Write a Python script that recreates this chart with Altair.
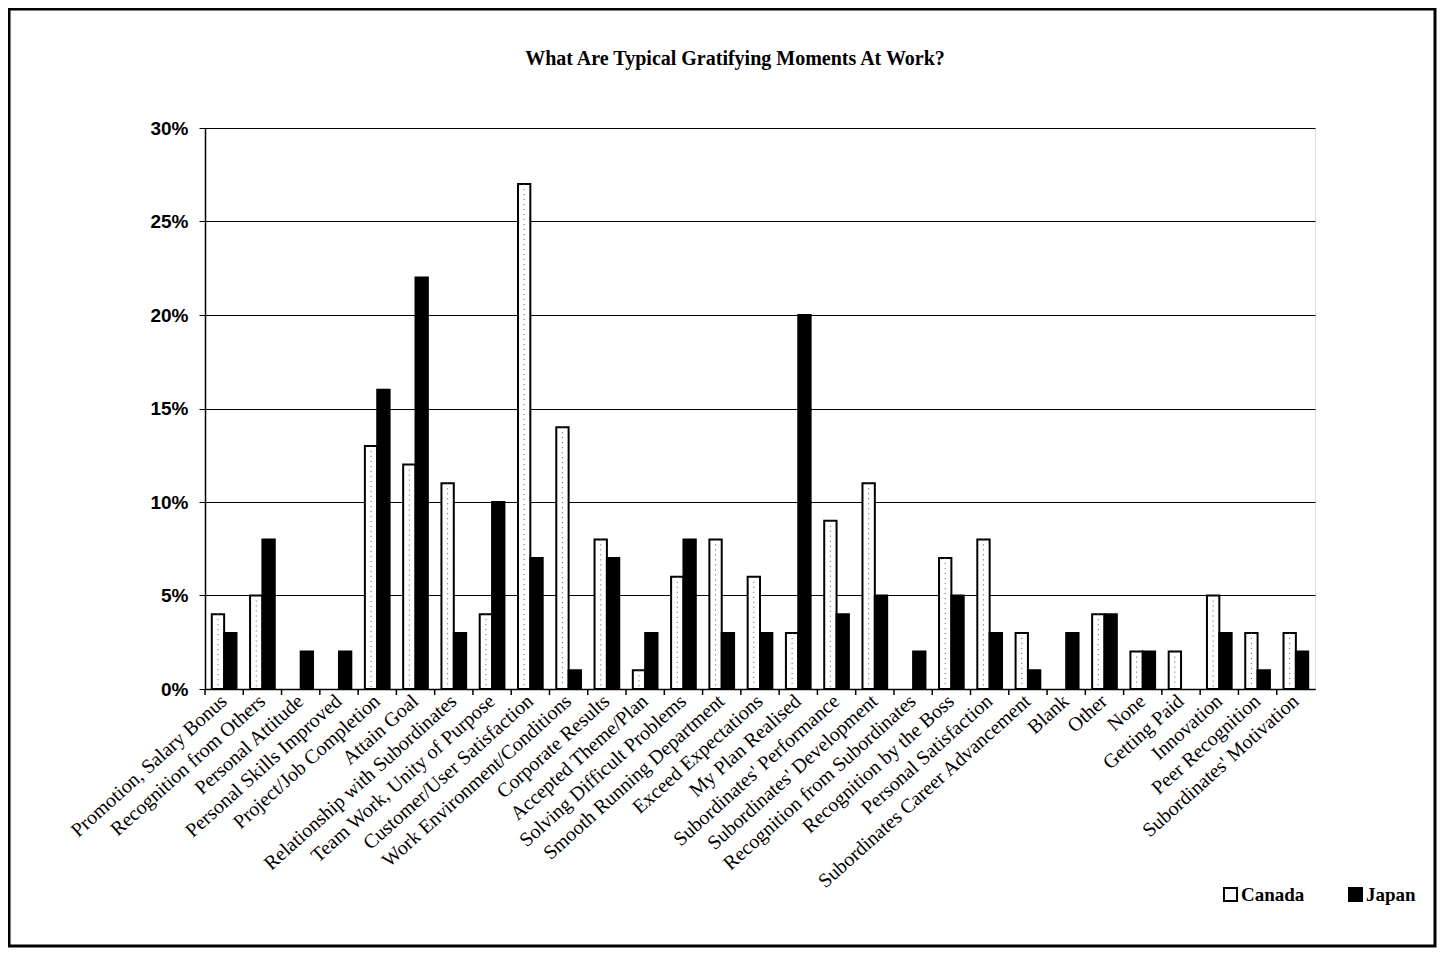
import altair as alt
import pandas as pd

categories = [
    "Promotion, Salary Bonus", "Recognition from Others", "Personal Attitude",
    "Personal Skills Improved", "Project/Job Completion", "Attain Goal",
    "Relationship with Subordinates", "Team Work, Unity of Purpose",
    "Customer/User Satisfaction", "Work Environment/Conditions",
    "Corporate Results", "Accepted Theme/Plan", "Solving Difficult Problems",
    "Smooth Running Department", "Exceed Expectations", "My Plan Realised",
    "Subordinates' Performance", "Subordinates' Development",
    "Recognition from Subordinates", "Recognition by the Boss",
    "Personal Satisfaction", "Subordinates Career Advancement", "Blank",
    "Other", "None", "Getting Paid", "Innovation", "Peer Recognition",
    "Subordinates' Motivation",
]
canada = [4, 5, 0, 0, 13, 12, 11, 4, 27, 14, 8, 1, 6, 8, 6, 3, 9, 11, 0, 7, 8, 3, 0, 4, 2, 2, 5, 3, 3]
japan = [3, 8, 2, 2, 16, 22, 3, 10, 7, 1, 7, 3, 8, 3, 3, 20, 4, 5, 2, 5, 3, 1, 3, 4, 2, 0, 3, 1, 2]
series = ["Canada", "Japan"]
y_ticks = [0, 0.05, 0.10, 0.15, 0.20, 0.25, 0.30]
title_text = "What Are Typical Gratifying Moments At Work?"

rows = []
for c, v1, v2 in zip(categories, canada, japan):
    rows.append({"category": c, "country": "Canada", "value": v1 / 100})
    rows.append({"category": c, "country": "Japan", "value": v2 / 100})
df = pd.DataFrame(rows)
tick_df = pd.DataFrame({"category": categories})

W, H = 1110, 561

x_scale = alt.Scale(domain=categories, paddingInner=0, paddingOuter=0)
x_axis = alt.Axis(
    title=None, labelAngle=-42, labelAlign="right", labelBaseline="middle",
    labelFont="Liberation Serif", labelFontSize=20, labelColor="black",
    ticks=False, domainColor="black", domainWidth=1.5, labelPadding=9,
    labelLimit=400, labelOverlap=False,
)
y_axis = alt.Axis(
    title=None, format=".0%", values=y_ticks, grid=True, gridColor="black",
    gridWidth=1, tickColor="black", tickSize=6, domainColor="black",
    domainWidth=1.5, labelFont="Liberation Sans", labelFontWeight="bold",
    labelFontSize=19, labelColor="black", labelPadding=11,
)
x = alt.X("category:N", sort=categories, scale=x_scale, axis=x_axis)
y = alt.Y("value:Q", scale=alt.Scale(domain=[0, 0.3], nice=False), axis=y_axis)
xo = alt.XOffset("country:N", sort=series,
                 scale=alt.Scale(domain=series, paddingInner=0, paddingOuter=0.55))
color = alt.Color(
    "country:N", sort=series,
    scale=alt.Scale(domain=series, range=["white", "black"]),
    legend=alt.Legend(
        title=None, orient="none", legendX=1016, legendY=757,
        direction="horizontal", symbolType="square", symbolSize=169,
        symbolStrokeColor="black", symbolStrokeWidth=2,
        labelFont="Liberation Serif", labelFontWeight="bold", labelFontSize=19,
        labelColor="black", columnPadding=40, labelOffset=1,
    ),
)

bars = (
    alt.Chart(df)
    .transform_filter("datum.value > 0")
    .mark_bar(stroke="black", strokeWidth=2)
    .encode(x=x, xOffset=xo, y=y, color=color)
)

dots = (
    alt.Chart(df)
    .transform_filter("datum.country == 'Canada' && datum.value > 0")
    .mark_rule(color="#555555", strokeDash=[1, 4], strokeWidth=1)
    .encode(x=x, xOffset=xo, y=y, y2=alt.value(H - 2))
)

ticks = (
    alt.Chart(tick_df)
    .mark_rule(color="black", strokeWidth=1.5)
    .encode(
        x=alt.X("category:N", sort=categories, bandPosition=0, scale=x_scale, axis=x_axis),
        y=alt.value(H), y2=alt.value(H + 6),
    )
)

frame = (
    alt.Chart(alt.Data(values=[{"a": 1}]))
    .mark_rect(filled=False, stroke="black", strokeWidth=3)
    .encode(x=alt.value(-196), x2=alt.value(1230), y=alt.value(-119), y2=alt.value(818))
)

title = (
    alt.Chart(alt.Data(values=[{"a": 1}]))
    .mark_text(font="Liberation Serif", fontSize=20, fontWeight="bold",
               color="black", align="center", baseline="middle")
    .encode(x=alt.value(530), y=alt.value(-69), text=alt.value(title_text))
)

chart = (
    alt.layer(frame, title, bars, dots, ticks)
    .properties(
        width=W, height=H,
        padding={"left": 197, "top": 120, "right": 123, "bottom": 259},
        autosize=alt.AutoSizeParams(type="none"),
    )
    .configure_view(stroke="black", strokeWidth=1.5)
    .configure(background="white")
)

chart.save("out.html", embed_options={"renderer": "svg", "actions": False})
